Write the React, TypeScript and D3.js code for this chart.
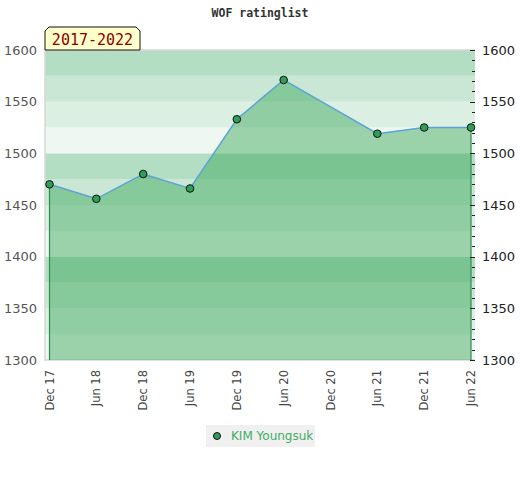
import { useEffect, useRef } from 'react';
import * as d3 from 'd3';

// half-year periods on the x axis
const periods = ['Dec 17', 'Jun 18', 'Dec 18', 'Jun 19', 'Dec 19', 'Jun 20', 'Dec 20', 'Jun 21', 'Dec 21', 'Jun 22'];
// rating list entries (Dec 20 has no list)
const ratingPeriods = ['Dec 17', 'Jun 18', 'Dec 18', 'Jun 19', 'Dec 19', 'Jun 20', 'Jun 21', 'Dec 21', 'Jun 22'];
const ratings = [1470, 1456, 1480, 1466, 1533, 1571, 1519, 1525, 1525];
const yTicks = [1300, 1350, 1400, 1450, 1500, 1550, 1600];
const playerName = 'KIM Youngsuk';
const rangeLabel = '2017-2022';
const chartTitle = 'WOF ratinglist';

const bandColors = ['#b3dec3', '#c9e7d4', '#dcefe3', '#eef7f1'];

export default function App() {
  const svgRef = useRef<SVGSVGElement>(null);

  useEffect(() => {
    if (!svgRef.current) return;
    const svg = d3.select(svgRef.current);
    svg.selectAll('*').remove();

    const left = 45, right = 475, top = 50, bottom = 360;

    const x = d3.scalePoint().domain(periods).range([49.5, 471]);
    const y = d3.scaleLinear().domain([1300, 1600]).range([bottom, top]);

    const data = ratingPeriods.map((p, i) => ({ p, v: ratings[i] }));

    // title
    svg.append('text')
      .attr('x', 260).attr('y', 17)
      .attr('text-anchor', 'middle')
      .style('font-family', '"DejaVu Sans Mono", monospace')
      .style('font-weight', 'bold')
      .style('font-size', '11.5px')
      .style('fill', '#333')
      .text(chartTitle);

    // background bands every 25 points
    const bands = d3.range(1300, 1600, 25);
    svg.append('g').selectAll('rect')
      .data(bands)
      .enter().append('rect')
      .attr('x', left)
      .attr('width', right - left)
      .attr('y', d => y(d + 25))
      .attr('height', d => y(d) - y(d + 25))
      .attr('fill', d => bandColors[3 - ((d - 1300) / 25) % 4]);

    // plot border
    svg.append('path')
      .attr('d', `M${right},${top}H${left}V${bottom}H${right}`)
      .attr('fill', 'none')
      .attr('stroke', '#d8d8d8')
      .attr('stroke-width', 1.5);

    // area under the rating line
    const area = d3.area<{ p: string; v: number }>()
      .x(d => x(d.p) as number)
      .y0(bottom)
      .y1(d => y(d.v));
    svg.append('path')
      .datum(data)
      .attr('d', area)
      .attr('fill', 'rgba(54,165,85,0.45)');

    // vertical edges of the area
    const first = data[0], last = data[data.length - 1];
    [first, last].forEach(d => {
      svg.append('line')
        .attr('x1', x(d.p) as number).attr('x2', x(d.p) as number)
        .attr('y1', y(d.v)).attr('y2', bottom)
        .attr('stroke', '#2e8b50')
        .attr('stroke-width', 1.2);
    });

    // right axis minor/major ticks
    const minor = d3.range(1300, 1601, 10);
    svg.append('g').selectAll('line')
      .data(minor)
      .enter().append('line')
      .attr('x1', d => (d % 50 === 0 ? right - 5 : right - 3))
      .attr('x2', right)
      .attr('y1', d => Math.round(y(d)) + 0.5)
      .attr('y2', d => Math.round(y(d)) + 0.5)
      .attr('stroke', '#222')
      .attr('stroke-width', 1);

    // rating line
    const line = d3.line<{ p: string; v: number }>()
      .x(d => x(d.p) as number)
      .y(d => y(d.v));
    svg.append('path')
      .datum(data)
      .attr('d', line)
      .attr('fill', 'none')
      .attr('stroke', '#5ba3d6')
      .attr('stroke-width', 1.5);

    // points
    svg.append('g').selectAll('circle')
      .data(data)
      .enter().append('circle')
      .attr('cx', d => x(d.p) as number)
      .attr('cy', d => y(d.v))
      .attr('r', 3.8)
      .attr('fill', '#2f9e58')
      .attr('stroke', '#111')
      .attr('stroke-width', 1);

    // left and right tick labels
    const tickFont = '"DejaVu Sans", sans-serif';
    svg.append('g').selectAll('text')
      .data(yTicks)
      .enter().append('text')
      .attr('x', 37)
      .attr('y', d => y(d))
      .attr('dy', '0.36em')
      .attr('text-anchor', 'end')
      .style('font-family', tickFont)
      .style('font-size', '13px')
      .style('fill', '#555')
      .text(d => d);
    svg.append('g').selectAll('text')
      .data(yTicks)
      .enter().append('text')
      .attr('x', 482)
      .attr('y', d => y(d))
      .attr('dy', '0.36em')
      .style('font-family', tickFont)
      .style('font-size', '13px')
      .style('fill', '#222')
      .text(d => d);

    // x labels, rotated
    svg.append('g').selectAll('text')
      .data(periods)
      .enter().append('text')
      .attr('transform', d => `translate(${x(d) as number},370) rotate(-90)`)
      .attr('dy', '0.36em')
      .attr('text-anchor', 'end')
      .style('font-family', tickFont)
      .style('font-size', '11.5px')
      .style('fill', '#444')
      .text(d => d);

    // range label box with chamfered top corners
    const bx = 45, by = 27, bw = 95, bh = 23, c = 4;
    svg.append('path')
      .attr('d', `M${bx},${by + bh}V${by + c}L${bx + c},${by}H${bx + bw - c}L${bx + bw},${by + c}V${by + bh}Z`)
      .attr('fill', '#ffffcc')
      .attr('stroke', '#111')
      .attr('stroke-width', 1);
    svg.append('text')
      .attr('x', bx + bw / 2).attr('y', by + 18)
      .attr('text-anchor', 'middle')
      .style('font-family', '"DejaVu Sans Mono", monospace')
      .style('font-size', '15px')
      .style('fill', '#8b0000')
      .text(rangeLabel);

    // legend
    const lg = svg.append('g').attr('transform', 'translate(206,425)');
    lg.append('rect')
      .attr('width', 109).attr('height', 22)
      .attr('fill', '#f0f0f0');
    lg.append('circle')
      .attr('cx', 11).attr('cy', 11).attr('r', 3.5)
      .attr('fill', '#2f9e58')
      .attr('stroke', '#111')
      .attr('stroke-width', 1);
    lg.append('text')
      .attr('x', 25).attr('y', 11)
      .attr('dy', '0.36em')
      .style('font-family', tickFont)
      .style('font-size', '12px')
      .style('fill', '#3fae66')
      .text(playerName);
  }, []);

  return (
    <div style={{ position: 'absolute', left: 0, top: 0 }}>
      <svg ref={svgRef} width={520} height={480} style={{ display: 'block', background: '#fff' }} />
    </div>
  );
}
